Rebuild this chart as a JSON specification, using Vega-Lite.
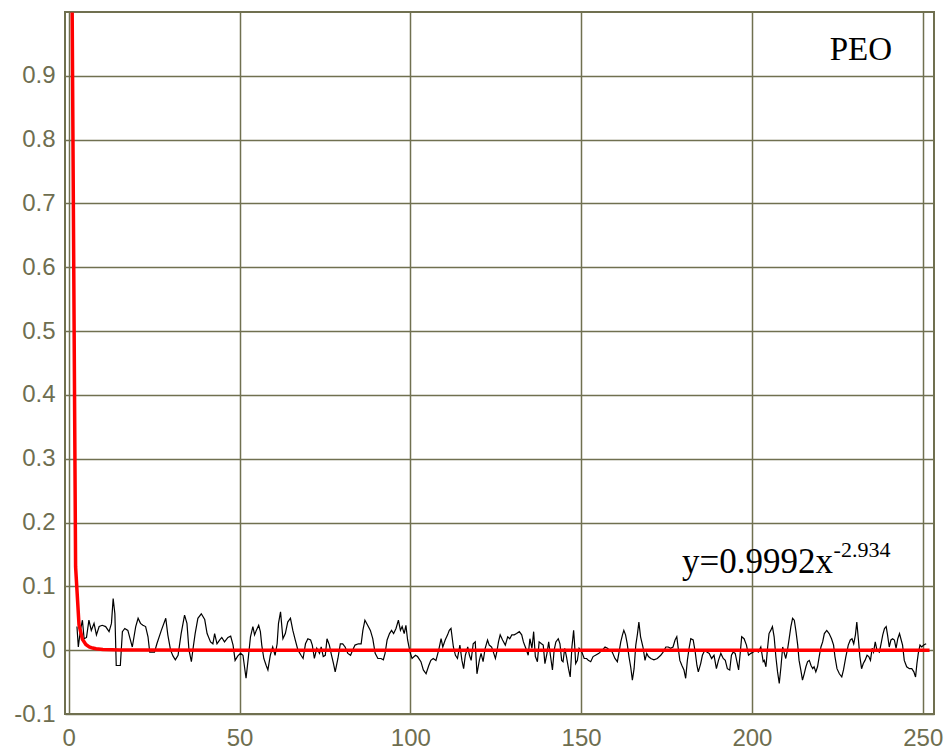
{
  "$schema": "https://vega.github.io/schema/vega-lite/v6.json",
  "width": 869,
  "height": 702,
  "autosize": {"type": "none"},
  "padding": {"left": 65, "top": 12, "right": 15, "bottom": 40},
  "background": "white",
  "config": {
    "view": {"stroke": "#707050", "strokeWidth": 2},
    "axis": {
      "grid": true,
      "gridColor": "#707050",
      "gridWidth": 1.5,
      "gridOpacity": 1,
      "domain": false,
      "ticks": false,
      "tickSize": 0,
      "labelFont": "Liberation Sans",
      "labelFontSize": 24,
      "labelColor": "#6e6e50",
      "title": null
    }
  },
  "encoding": {
    "x": {
      "field": "x",
      "type": "quantitative",
      "scale": {"domain": [-1.1, 253.3], "nice": false, "zero": false},
      "axis": {"values": [0, 50, 100, 150, 200, 250], "labelPadding": 12, "labelFlush": false}
    },
    "y": {
      "field": "y",
      "type": "quantitative",
      "scale": {"domain": [-0.1, 1.0], "nice": false, "zero": false},
      "axis": {
        "values": [-0.1, 0, 0.1, 0.2, 0.3, 0.4, 0.5, 0.6, 0.7, 0.8, 0.9],
        "labelPadding": 10,
        "labelFlush": false,
        "labelExpr": "datum.value < 0 ? '-' + format(-datum.value, '.1f') : (datum.value == 0 ? '0' : format(datum.value, '.1f'))"
      }
    }
  },
  "layer": [
    {
      "data": {"values": [
        {"x":2.4,"y":0.037},{"x":2.8,"y":0.005},{"x":3.4,"y":0.031},{"x":4.0,"y":0.047},{"x":4.5,"y":0.018},{"x":5.2,"y":0.02},{"x":5.9,"y":0.047},{"x":6.6,"y":0.031},{"x":7.4,"y":0.042},{"x":8.1,"y":0.024},{"x":8.9,"y":0.037},{"x":9.8,"y":0.039},{"x":10.8,"y":0.037},{"x":11.8,"y":0.029},{"x":12.5,"y":0.042},{"x":13.0,"y":0.081},{"x":13.5,"y":0.057},{"x":13.9,"y":-0.024},{"x":15.1,"y":-0.024},{"x":15.7,"y":0.029},{"x":16.4,"y":0.034},{"x":17.3,"y":0.031},{"x":18.0,"y":0.017},{"x":18.6,"y":0.005},{"x":19.6,"y":0.037},{"x":20.3,"y":0.05},{"x":21.0,"y":0.042},{"x":21.7,"y":0.039},{"x":22.5,"y":0.037},{"x":23.2,"y":0.021},{"x":23.7,"y":-0.003},{"x":25.1,"y":-0.003},{"x":25.8,"y":0.01},{"x":27.1,"y":0.031},{"x":28.4,"y":0.05},{"x":29.0,"y":0.024},{"x":29.8,"y":0.0},{"x":30.5,"y":-0.009},{"x":31.2,"y":-0.015},{"x":32.0,"y":-0.008},{"x":32.9,"y":0.026},{"x":33.9,"y":0.055},{"x":34.6,"y":0.042},{"x":35.2,"y":0.0},{"x":35.9,"y":-0.018},{"x":36.4,"y":0.003},{"x":37.0,"y":0.026},{"x":37.8,"y":0.05},{"x":38.8,"y":0.057},{"x":39.8,"y":0.048},{"x":40.5,"y":0.026},{"x":41.5,"y":0.013},{"x":42.2,"y":0.01},{"x":42.7,"y":0.026},{"x":43.4,"y":0.01},{"x":44.2,"y":0.016},{"x":44.8,"y":0.02},{"x":45.6,"y":0.013},{"x":46.6,"y":0.02},{"x":47.4,"y":0.022},{"x":48.1,"y":0.008},{"x":48.7,"y":-0.016},{"x":49.5,"y":-0.009},{"x":50.3,"y":-0.005},
        {"x":51.0,"y":-0.008},{"x":51.9,"y":-0.044},{"x":52.6,"y":-0.01},{"x":53.2,"y":0.021},{"x":53.9,"y":0.037},{"x":54.4,"y":0.024},{"x":54.9,"y":0.031},{"x":55.6,"y":0.039},{"x":56.1,"y":0.029},{"x":56.5,"y":0.008},{"x":57.1,"y":-0.013},{"x":57.8,"y":-0.024},{"x":58.3,"y":-0.031},{"x":59.0,"y":-0.008},{"x":59.7,"y":0.005},{"x":60.4,"y":-0.008},{"x":61.0,"y":0.01},{"x":61.4,"y":0.042},{"x":62.0,"y":0.06},{"x":62.7,"y":0.018},{"x":63.4,"y":0.026},{"x":64.1,"y":0.044},{"x":64.9,"y":0.05},{"x":65.6,"y":0.031},{"x":66.3,"y":0.016},{"x":67.1,"y":0.0},{"x":68.0,"y":-0.008},{"x":68.6,"y":-0.013},{"x":69.3,"y":0.01},{"x":70.0,"y":0.018},{"x":70.8,"y":0.016},{"x":71.3,"y":0.008},{"x":71.9,"y":-0.013},{"x":72.6,"y":0.003},{"x":73.4,"y":-0.005},{"x":73.9,"y":0.005},{"x":74.5,"y":-0.01},{"x":75.1,"y":-0.008},{"x":75.6,"y":0.018},{"x":76.3,"y":0.008},{"x":76.8,"y":-0.005},{"x":77.5,"y":-0.021},{"x":78.0,"y":-0.034},{"x":78.8,"y":-0.013},{"x":79.5,"y":0.01},{"x":80.2,"y":0.01},{"x":80.9,"y":0.005},{"x":81.7,"y":-0.005},{"x":82.5,"y":-0.008},{"x":83.1,"y":0.0},{"x":83.8,"y":0.008},{"x":84.8,"y":0.01},{"x":85.6,"y":0.01},{"x":86.1,"y":0.031},{"x":86.7,"y":0.047},{"x":87.5,"y":0.039},{"x":88.3,"y":0.031},{"x":89.0,"y":0.018},{"x":89.7,"y":-0.005},{"x":90.5,"y":-0.013},{"x":91.4,"y":-0.013},{"x":92.1,"y":-0.015},{"x":92.6,"y":-0.005},{"x":93.2,"y":0.016},{"x":93.9,"y":0.026},{"x":94.5,"y":0.031},{"x":95.1,"y":0.026},{"x":95.8,"y":0.034},{"x":96.5,"y":0.047},{"x":97.1,"y":0.031},{"x":97.6,"y":0.037},{"x":98.2,"y":0.026},{"x":98.7,"y":0.039},{"x":99.2,"y":0.016},{"x":99.9,"y":-0.003},
        {"x":100.5,"y":-0.013},{"x":101.5,"y":-0.008},{"x":102.1,"y":-0.01},{"x":103.1,"y":-0.018},{"x":103.8,"y":-0.031},{"x":104.6,"y":-0.037},{"x":105.4,"y":-0.024},{"x":106.0,"y":-0.016},{"x":106.7,"y":-0.013},{"x":107.5,"y":-0.016},{"x":108.3,"y":0.0},{"x":109.0,"y":0.018},{"x":109.5,"y":0.005},{"x":110.2,"y":0.016},{"x":110.9,"y":0.024},{"x":111.4,"y":0.031},{"x":111.9,"y":0.034},{"x":112.6,"y":0.005},{"x":113.2,"y":-0.008},{"x":113.8,"y":-0.013},{"x":114.5,"y":0.008},{"x":115.1,"y":-0.016},{"x":115.6,"y":-0.029},{"x":116.1,"y":-0.008},{"x":116.8,"y":0.005},{"x":117.3,"y":-0.008},{"x":117.8,"y":-0.016},{"x":118.4,"y":0.01},{"x":119.0,"y":0.013},{"x":119.5,"y":-0.037},{"x":120.2,"y":-0.016},{"x":120.7,"y":-0.005},{"x":121.3,"y":-0.018},{"x":121.9,"y":0.003},{"x":122.6,"y":0.016},{"x":123.1,"y":0.008},{"x":123.8,"y":0.005},{"x":124.3,"y":-0.003},{"x":124.9,"y":-0.013},{"x":125.3,"y":-0.003},{"x":125.8,"y":0.013},{"x":126.3,"y":0.024},{"x":127.0,"y":0.016},{"x":127.8,"y":0.008},{"x":128.5,"y":0.021},{"x":129.1,"y":0.018},{"x":129.7,"y":0.024},{"x":130.4,"y":0.024},{"x":131.1,"y":0.026},{"x":131.9,"y":0.029},{"x":132.6,"y":0.024},{"x":133.1,"y":0.013},{"x":133.8,"y":0.003},{"x":134.5,"y":-0.008},{"x":135.0,"y":0.018},{"x":135.6,"y":0.003},{"x":136.1,"y":0.029},{"x":136.6,"y":-0.01},{"x":137.2,"y":-0.018},{"x":137.7,"y":0.013},{"x":138.4,"y":0.01},{"x":138.9,"y":0.008},{"x":139.4,"y":-0.021},{"x":140.0,"y":-0.005},{"x":140.5,"y":0.013},{"x":141.0,"y":-0.008},{"x":141.6,"y":-0.031},{"x":142.1,"y":0.0},{"x":142.6,"y":0.013},{"x":143.3,"y":0.018},{"x":143.8,"y":0.01},{"x":144.3,"y":-0.016},{"x":144.7,"y":-0.018},{"x":145.2,"y":0.003},{"x":145.7,"y":-0.01},{"x":146.3,"y":-0.029},{"x":146.8,"y":-0.042},{"x":147.3,"y":0.005},{"x":147.8,"y":0.031},{"x":148.1,"y":0.008},{"x":148.4,"y":-0.021},{"x":148.9,"y":-0.016},{"x":149.4,"y":0.003},{"x":150.2,"y":-0.003},{"x":150.9,"y":-0.013},{"x":151.6,"y":-0.013},
        {"x":152.1,"y":-0.016},{"x":152.8,"y":-0.018},{"x":153.5,"y":-0.01},{"x":154.2,"y":-0.008},{"x":155.2,"y":-0.005},{"x":156.2,"y":0.0},{"x":157.0,"y":0.005},{"x":157.7,"y":0.003},{"x":158.3,"y":0.0},{"x":159.1,"y":-0.003},{"x":159.9,"y":-0.013},{"x":160.6,"y":-0.018},{"x":161.1,"y":-0.003},{"x":161.6,"y":0.013},{"x":162.1,"y":0.024},{"x":162.5,"y":0.031},{"x":163.0,"y":0.024},{"x":163.5,"y":0.01},{"x":164.0,"y":-0.01},{"x":164.5,"y":-0.026},{"x":165.0,"y":-0.047},{"x":165.5,"y":-0.029},{"x":166.0,"y":0.008},{"x":166.5,"y":0.026},{"x":166.9,"y":0.044},{"x":167.4,"y":0.021},{"x":168.1,"y":0.005},{"x":168.7,"y":-0.016},{"x":169.2,"y":-0.005},{"x":169.7,"y":-0.01},{"x":170.4,"y":-0.013},{"x":171.3,"y":-0.015},{"x":172.3,"y":-0.013},{"x":173.3,"y":-0.008},{"x":174.0,"y":-0.003},{"x":174.8,"y":0.005},{"x":175.5,"y":0.005},{"x":176.2,"y":0.003},{"x":176.9,"y":0.005},{"x":177.5,"y":0.016},{"x":178.0,"y":0.021},{"x":178.5,"y":0.0},{"x":178.9,"y":-0.016},{"x":179.5,"y":-0.024},{"x":180.1,"y":-0.031},{"x":180.6,"y":-0.044},{"x":181.1,"y":-0.016},{"x":181.6,"y":0.003},{"x":182.1,"y":0.018},{"x":182.8,"y":0.016},{"x":183.4,"y":-0.003},{"x":183.9,"y":-0.024},{"x":184.3,"y":-0.034},{"x":185.0,"y":-0.021},{"x":185.5,"y":-0.008},{"x":186.2,"y":0.0},{"x":186.8,"y":-0.003},{"x":187.5,"y":-0.005},{"x":188.2,"y":-0.013},{"x":188.9,"y":-0.008},{"x":189.6,"y":-0.029},{"x":190.2,"y":-0.016},{"x":190.9,"y":-0.005},{"x":191.6,"y":-0.013},{"x":192.2,"y":-0.016},{"x":192.8,"y":-0.029},{"x":193.5,"y":-0.031},{"x":194.0,"y":-0.008},{"x":194.5,"y":-0.003},{"x":195.1,"y":-0.005},{"x":195.6,"y":-0.018},{"x":196.1,"y":-0.031},{"x":196.6,"y":-0.003},{"x":197.0,"y":0.021},{"x":197.7,"y":0.018},{"x":198.4,"y":0.008},{"x":199.0,"y":-0.008},{"x":199.7,"y":-0.005},{"x":200.4,"y":-0.003},{"x":201.2,"y":0.0},{"x":201.9,"y":-0.003},{"x":202.6,"y":0.005},{"x":203.3,"y":-0.018},
        {"x":203.6,"y":-0.016},{"x":204.1,"y":-0.026},{"x":204.6,"y":0.005},{"x":205.0,"y":0.026},{"x":205.5,"y":0.031},{"x":206.0,"y":0.037},{"x":206.5,"y":0.021},{"x":207.0,"y":-0.01},{"x":207.5,"y":-0.034},{"x":208.0,"y":-0.052},{"x":208.5,"y":-0.026},{"x":209.0,"y":0.005},{"x":209.4,"y":-0.003},{"x":209.9,"y":-0.013},{"x":210.4,"y":0.0},{"x":210.9,"y":0.018},{"x":211.4,"y":0.037},{"x":211.9,"y":0.05},{"x":212.4,"y":0.047},{"x":212.9,"y":0.029},{"x":213.4,"y":0.008},{"x":213.8,"y":-0.016},{"x":214.3,"y":-0.031},{"x":214.8,"y":-0.047},{"x":215.3,"y":-0.037},{"x":215.8,"y":-0.026},{"x":216.3,"y":-0.018},{"x":216.8,"y":-0.016},{"x":217.3,"y":-0.024},{"x":217.8,"y":-0.029},{"x":218.2,"y":-0.026},{"x":218.7,"y":-0.034},{"x":219.2,"y":-0.026},{"x":219.7,"y":-0.01},{"x":220.2,"y":0.005},{"x":220.7,"y":0.013},{"x":221.2,"y":0.026},{"x":221.9,"y":0.031},{"x":222.6,"y":0.026},{"x":223.3,"y":0.018},{"x":223.9,"y":0.008},{"x":224.3,"y":-0.01},{"x":224.9,"y":-0.029},{"x":225.6,"y":-0.037},{"x":226.3,"y":-0.042},{"x":226.8,"y":-0.031},{"x":227.5,"y":-0.01},{"x":228.2,"y":0.008},{"x":228.8,"y":0.016},{"x":229.3,"y":0.018},{"x":229.8,"y":0.01},{"x":230.3,"y":0.024},{"x":230.7,"y":0.044},{"x":231.1,"y":0.021},{"x":231.6,"y":-0.01},{"x":232.1,"y":-0.029},{"x":232.6,"y":-0.021},{"x":233.1,"y":-0.016},{"x":233.7,"y":-0.008},{"x":234.2,"y":-0.01},{"x":234.7,"y":-0.016},{"x":235.2,"y":0.003},{"x":235.6,"y":-0.003},{"x":236.1,"y":0.013},{"x":236.6,"y":0.0},{"x":237.3,"y":-0.003},{"x":237.8,"y":0.01},{"x":238.3,"y":0.024},{"x":238.8,"y":0.034},{"x":239.3,"y":0.037},{"x":239.7,"y":0.024},{"x":240.2,"y":0.005},{"x":240.7,"y":0.016},{"x":241.2,"y":0.018},{"x":241.7,"y":0.016},{"x":242.2,"y":0.003},{"x":242.7,"y":0.018},{"x":243.2,"y":0.026},{"x":243.7,"y":0.016},{"x":244.1,"y":0.008},{"x":244.6,"y":-0.016},{"x":245.3,"y":-0.026},{"x":246.1,"y":-0.029},{"x":246.8,"y":-0.029},{"x":247.4,"y":-0.034},{"x":247.9,"y":-0.042},{"x":248.3,"y":-0.021},{"x":248.7,"y":-0.005},{"x":249.2,"y":0.008},{"x":249.7,"y":0.005},{"x":250.3,"y":0.008},{"x":251.0,"y":0.01}
      ]},
      "mark": {"type": "line", "color": "black", "strokeWidth": 1.2, "clip": true}
    },
    {
      "data": {"values": [
        {"x":1,"y":0.9992},{"x":2,"y":0.1308},{"x":3,"y":0.0398},{"x":4,"y":0.0171},{"x":5,"y":0.0089},{"x":6,"y":0.0052},{"x":7,"y":0.0033},{"x":8,"y":0.0022},{"x":10,"y":0.0012},{"x":15,"y":0.00035},{"x":20,"y":0.00015},{"x":50,"y":0.00001},{"x":100,"y":0.0},{"x":150,"y":0.0},{"x":200,"y":0.0},{"x":252,"y":0.0}
      ]},
      "mark": {"type": "line", "color": "#ff0000", "strokeWidth": 3.5, "clip": true}
    },
    {
      "data": {"values": [{"x": 241.0, "y": 0.925, "label": "PEO"}]},
      "mark": {"type": "text", "align": "right", "baseline": "alphabetic", "font": "Liberation Serif", "fontSize": 33, "color": "black"},
      "encoding": {"text": {"field": "label"}}
    },
    {
      "data": {"values": [{"x": 223.7, "y": 0.121, "label": "y=0.9992x"}]},
      "mark": {"type": "text", "align": "right", "baseline": "alphabetic", "font": "Liberation Serif", "fontSize": 35, "color": "black"},
      "encoding": {"text": {"field": "label"}}
    },
    {
      "data": {"values": [{"x": 223.9, "y": 0.1465, "label": "-2.934"}]},
      "mark": {"type": "text", "align": "left", "baseline": "alphabetic", "font": "Liberation Serif", "fontSize": 22, "color": "black"},
      "encoding": {"text": {"field": "label"}}
    }
  ]
}
